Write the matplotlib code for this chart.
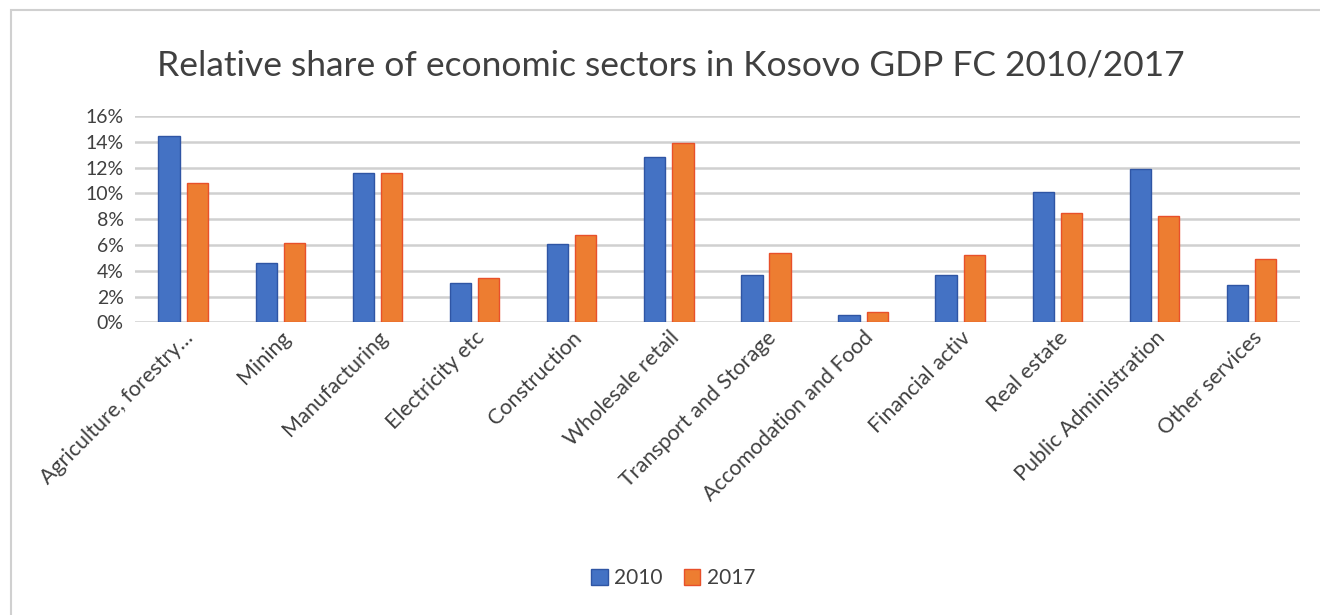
import numpy as np
import matplotlib.pyplot as plt
from matplotlib.patches import Rectangle

# Data
sectors = ['Agriculture, forestry…', 'Mining', 'Manufacturing', 'Electricity etc',
           'Construction', 'Wholesale retail', 'Transport and Storage',
           'Accomodation and Food', 'Financial activ', 'Real estate',
           'Public Administration', 'Other services']
share_2010 = [14.45, 4.57, 11.63, 3.02, 6.05, 12.84, 3.64, 0.59, 3.64, 10.12, 11.93, 2.91]
share_2017 = [10.78, 6.12, 11.63, 3.41, 6.79, 13.92, 5.40, 0.82, 5.22, 8.52, 8.24, 4.88]
yticks = [0, 2, 4, 6, 8, 10, 12, 14, 16]

# Plot parameters
plt.rcParams['font.family'] = ['Lato', 'DejaVu Sans']
text_title = 'Relative share of economic sectors in Kosovo GDP FC 2010/2017'
color_2010 = '#4472C4'
color_2017 = '#ED7D31'
edge_2010 = '#2F55A4'
edge_2017 = '#E8502A'
color_grid = '#D0D0D0'
color_text = '#404040'
bar_width = 0.22
offset = 0.145

fig = plt.figure(figsize=(13.2, 6.15), dpi=100)
ax = fig.add_axes([0.102, 0.476, 0.883, 0.335])

x = np.arange(len(sectors))
ax.bar(x - offset, share_2010, width=bar_width, color=color_2010,
       edgecolor=edge_2010, linewidth=1, label='2010', zorder=3)
ax.bar(x + offset, share_2017, width=bar_width, color=color_2017,
       edgecolor=edge_2017, linewidth=1, label='2017', zorder=3)

ax.set_xlim(-0.5, len(sectors) - 0.5)
ax.set_ylim(0, 16)
ax.set_yticks(yticks)
ax.set_yticklabels([f'{v}%' for v in yticks], fontsize=14, color=color_text)
ax.set_xticks(x)
ax.set_xticklabels(sectors, rotation=45, ha='right', rotation_mode='anchor',
                   fontsize=15.5, color=color_text)
ax.tick_params(axis='x', length=0, pad=4)
ax.tick_params(axis='y', length=0, pad=8)
ax.yaxis.grid(True, color=color_grid, linewidth=1.8, zorder=0)
for s in ax.spines.values():
    s.set_visible(False)

fig.suptitle(text_title, x=0.508, y=0.92, fontsize=25.5, color='#404040')

fig.legend(loc='center', bbox_to_anchor=(0.51, 0.06), ncol=2, frameon=False,
           fontsize=15, handlelength=0.8, handleheight=0.8, columnspacing=1.0,
           handletextpad=0.3, labelcolor=color_text)

# light frame around the chart
fig.patches.append(Rectangle((0.008, -0.01), 1.1, 0.993, transform=fig.transFigure,
                             fill=False, edgecolor='#D0D0D0', linewidth=1.5))

fig.savefig('out.png', dpi=100)
